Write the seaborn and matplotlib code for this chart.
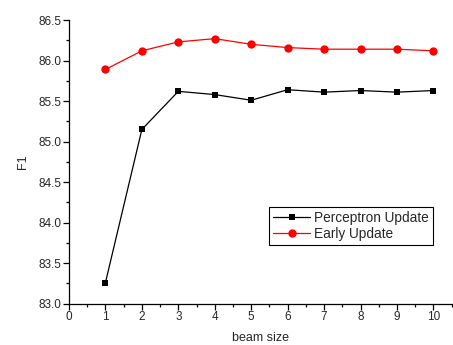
import pandas as pd
import matplotlib.pyplot as plt
import seaborn as sns

beam_size = [1, 2, 3, 4, 5, 6, 7, 8, 9, 10]
perceptron_f1 = [83.26, 85.15, 85.62, 85.58, 85.51, 85.64, 85.61, 85.63, 85.61, 85.63]
early_f1 = [85.89, 86.12, 86.23, 86.27, 86.20, 86.16, 86.14, 86.14, 86.14, 86.12]

sns.set_style('ticks')
plt.rcParams['font.family'] = ['Liberation Sans', 'DejaVu Sans']

df = pd.DataFrame({'beam size': beam_size,
                   'Perceptron Update': perceptron_f1,
                   'Early Update': early_f1})

fig = plt.figure(figsize=(4.53, 3.45), dpi=100)
ax = fig.add_axes([0.1523, 0.1197, 0.8447, 0.8223])

sns.lineplot(x='beam size', y='Perceptron Update', data=df, ax=ax, color='black',
             marker='s', markersize=4.6, markeredgewidth=0, linewidth=0.9,
             label='Perceptron Update')
sns.lineplot(x='beam size', y='Early Update', data=df, ax=ax, color='red',
             marker='o', markersize=6, markeredgewidth=0, linewidth=0.9,
             label='Early Update')

ax.set_xlim(0, 10.5)
ax.set_ylim(83.0, 86.5)
ax.set_xticks(range(0, 11))
ax.set_xticks([i + 0.5 for i in range(0, 11)], minor=True)
ax.set_yticks([83.0, 83.5, 84.0, 84.5, 85.0, 85.5, 86.0, 86.5])
ax.set_yticks([83.25, 83.75, 84.25, 84.75, 85.25, 85.75, 86.25], minor=True)
ax.yaxis.set_major_formatter(plt.FormatStrFormatter('%.1f'))
ax.tick_params(which='major', length=4, width=0.9, labelsize=8.5, pad=1.5, color='black')
ax.tick_params(which='minor', length=2.5, width=0.9, color='black')
sns.despine(ax=ax)
for s in ['left', 'bottom']:
    ax.spines[s].set_linewidth(0.9)
    ax.spines[s].set_color('black')

ax.set_xlabel('beam size', fontsize=9, labelpad=6)
ax.set_ylabel('F1', fontsize=9, labelpad=7)

leg = ax.legend(loc='upper right', bbox_to_anchor=(0.951, 0.342), fontsize=9.8,
                frameon=True, fancybox=False, edgecolor='black', framealpha=1,
                handlelength=2.7, handletextpad=0.3, borderpad=0.3,
                labelspacing=0.15, borderaxespad=0)
leg.get_frame().set_linewidth(0.8)

plt.savefig('out.png', dpi=100)
